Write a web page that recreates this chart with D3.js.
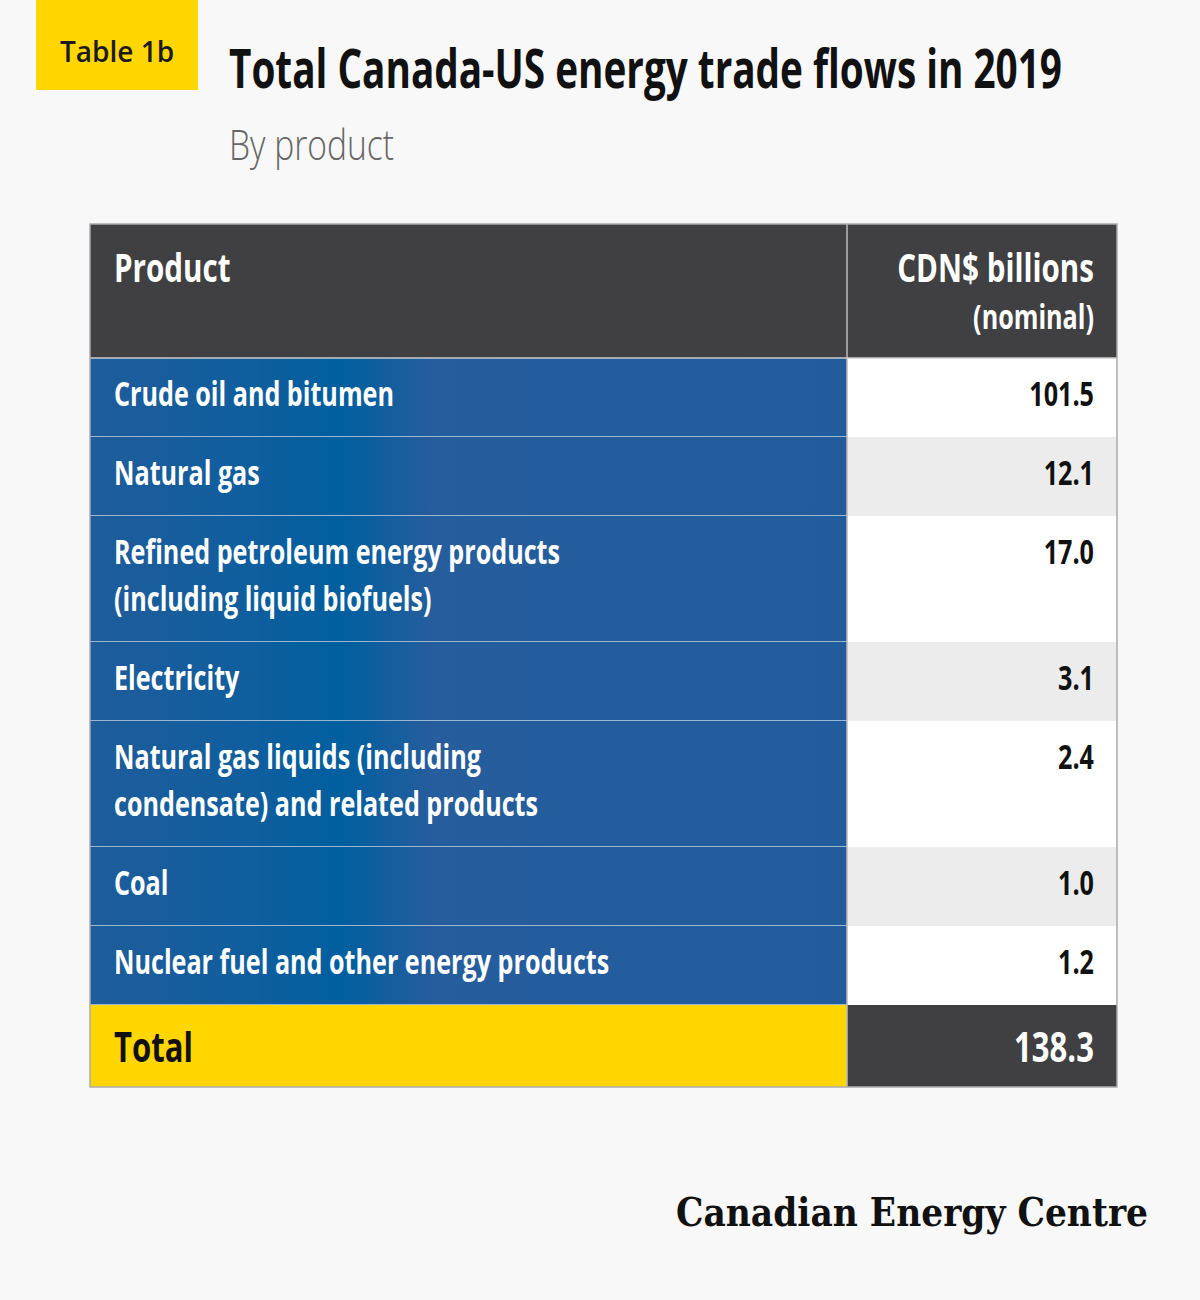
<!DOCTYPE html>
<html><head><meta charset="utf-8">
<script src="https://cdn.jsdelivr.net/npm/d3@7"></script>
<style>body{margin:0;background:#f8f8f8}</style>
</head><body><div id="container"></div>
<script>
const products = [
  ['Crude oil and bitumen'],
  ['Natural gas'],
  ['Refined petroleum energy products', '(including liquid biofuels)'],
  ['Electricity'],
  ['Natural gas liquids (including', 'condensate) and related products'],
  ['Coal'],
  ['Nuclear fuel and other energy products']
];
const values = ['101.5', '12.1', '17.0', '3.1', '2.4', '1.0', '1.2'];
const total = '138.3';
const headers = ['Product', ['CDN$ billions', '(nominal)']];

const W = 1200, H = 1300;
const x0 = 90, xSplit = 847, x1 = 1117;
const headTop = 224, headBot = 358;
const font = '"Open Sans",sans-serif';
const SX = 0.74; // horizontal squeeze to mimic a condensed face

const svg = d3.select('#container').append('svg').attr('width', W).attr('height', H);
svg.append('rect').attr('width', W).attr('height', H).attr('fill', '#f8f8f8');

// condensed text helper: squeeze around the anchor point
function ctext(parent, x, y, str, size, color, anchor = 'start', weight = 'bold', sx = SX) {
  return parent.append('text').attr('transform', `translate(${x},${y}) scale(${sx},1)`)
    .attr('text-anchor', anchor).style('font', `${weight} ${size}px ${font}`).attr('fill', color).text(str);
}

const grad = svg.append('defs').append('linearGradient').attr('id', 'blue');
[[0, '#1f5c9b'], [0.22, '#0f5e9e'], [0.33, '#005f9f'], [0.45, '#255d9d'], [1, '#225c9c']]
  .forEach(([o, c]) => grad.append('stop').attr('offset', o).attr('stop-color', c));

// badge and titles
svg.append('rect').attr('x', 36).attr('y', 0).attr('width', 162).attr('height', 90).attr('fill', '#ffd600');
svg.append('text').attr('x', 117).attr('y', 62).attr('text-anchor', 'middle')
  .style('font', '600 28px "Open Sans",sans-serif').attr('fill', '#1a1a1a').text('Table 1b');
svg.append('text').attr('x', 229).attr('y', 88)
  .style('font', `bold 54px ${font}`).attr('fill', '#111')
  .attr('textLength', 833).attr('lengthAdjust', 'spacingAndGlyphs')
  .text('Total Canada-US energy trade flows in 2019');
ctext(svg, 229, 160, 'By product', 42, '#666', 'start', '300', 0.8);

// row positions from line counts
const heights = products.map(p => 79 + (p.length - 1) * 47);
const tops = Array.from(d3.cumsum([0, ...heights]), v => headBot + v);

// header
svg.append('rect').attr('x', x0).attr('y', headTop).attr('width', x1 - x0).attr('height', headBot - headTop).attr('fill', '#404042');
ctext(svg, 114, 282, headers[0], 40, '#fff');
headers[1].forEach((t, i) => ctext(svg, 1094, 282 + i * 47, t, i ? 34 : 40, '#fff', 'end'));

const rows = svg.selectAll('g.row').data(products).enter().append('g')
  .attr('transform', (d, i) => `translate(0, ${tops[i]})`);
rows.append('rect').attr('x', x0).attr('width', xSplit - x0).attr('height', (d, i) => heights[i]).attr('fill', 'url(#blue)');
rows.append('rect').attr('x', xSplit).attr('width', x1 - xSplit).attr('height', (d, i) => heights[i])
  .attr('fill', (d, i) => i % 2 ? '#ececec' : '#ffffff');
rows.each(function (d, i) {
  const g = d3.select(this);
  d.forEach((t, j) => ctext(g, 114, 48 + j * 47, t, 34, '#fff'));
  ctext(g, 1094, 48, values[i], 34, '#111', 'end');
  g.append('line').attr('x1', x0).attr('x2', xSplit).attr('y1', heights[i]).attr('y2', heights[i])
    .attr('stroke', '#c9d4e2').attr('stroke-width', 1.5);
});

// total row
const tTop = tops[products.length], tH = 82;
svg.append('rect').attr('x', x0).attr('y', tTop).attr('width', xSplit - x0).attr('height', tH).attr('fill', '#ffd600');
svg.append('rect').attr('x', xSplit).attr('y', tTop).attr('width', x1 - xSplit).attr('height', tH).attr('fill', '#404042');
ctext(svg, 114, tTop + 57, 'Total', 42, '#111');
ctext(svg, 1094, tTop + 57, total, 42, '#fff', 'end');

// grid lines and frame
svg.append('line').attr('x1', xSplit).attr('x2', xSplit).attr('y1', headTop).attr('y2', tTop + tH).attr('stroke', '#bbb').attr('stroke-width', 1.5);
svg.append('line').attr('x1', x0).attr('x2', x1).attr('y1', headBot).attr('y2', headBot).attr('stroke', '#ccc').attr('stroke-width', 1.5);
svg.append('rect').attr('x', x0).attr('y', headTop).attr('width', x1 - x0).attr('height', tTop + tH - headTop)
  .attr('fill', 'none').attr('stroke', '#aaa').attr('stroke-width', 1.5);

svg.append('text').attr('x', 676).attr('y', 1226)
  .style('font', 'bold 40px "DejaVu Serif","Liberation Serif",serif').attr('fill', '#111')
  .attr('textLength', 472).attr('lengthAdjust', 'spacingAndGlyphs')
  .text('Canadian Energy Centre');
</script></body></html>
